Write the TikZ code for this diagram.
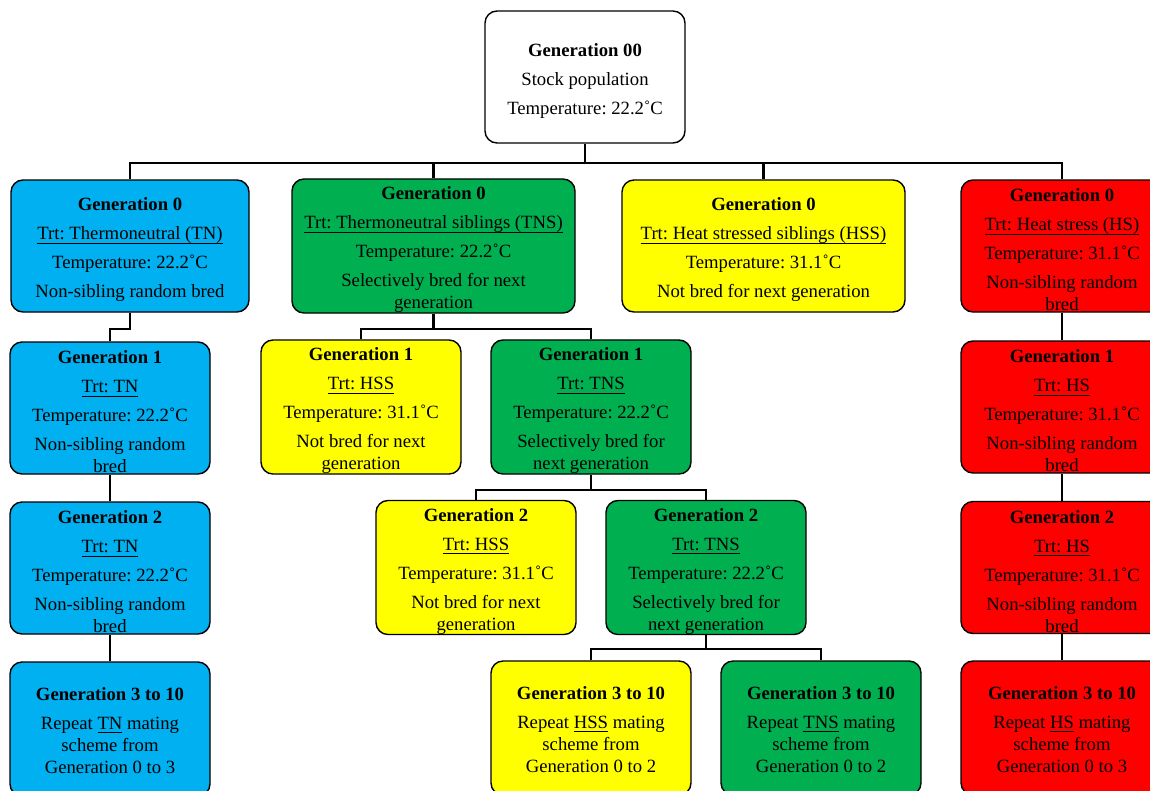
\documentclass[tikz,border=0pt]{standalone}
\usepackage{fontspec}
\setmainfont{Liberation Serif}
\frenchspacing
\definecolor{cblue}{RGB}{0,176,240}
\definecolor{cgreen}{RGB}{0,176,80}
\definecolor{cyellow}{RGB}{255,255,0}
\definecolor{cred}{RGB}{255,0,0}
\newcommand\ulx[1]{\setbox0\hbox{#1}\rlap{\rule[-3.9pt]{\wd0}{1.1pt}}\box0}
\newcommand\gen[2][21pt]{\rule{0pt}{#1}\textbf{#2}}
\tikzset{
  box/.style={draw, line width=1.4pt, rounded corners=12pt, align=center,
    minimum width=200pt, minimum height=132pt, inner sep=0pt,
    font=\fontsize{18.7}{22}\selectfont},
  conn/.style={line width=2.4pt},
}
\begin{document}
\begin{tikzpicture}[x=1pt,y=-1pt]
\useasboundingbox (0,0) rectangle (1150,790);
\clip (0,0) rectangle (1150,790);
% top
\node[box, fill=white] (g00) at (585,77) {\gen{Generation 00}\\[7pt]Stock population\\[7pt]Temperature: 22.2˚C};
% generation 0
\node[box, fill=cblue, minimum width=238pt] (tn0) at (130,246) {\gen{Generation 0}\\[7pt]\ulx{Trt: Thermoneutral (TN)}\\[7pt]Temperature: 22.2˚C\\[7pt]Non-sibling random bred};
\node[box, fill=cgreen, minimum width=283pt] (tns0) at (433.5,246) {\gen{Generation 0}\\[7pt]\ulx{Trt: Thermoneutral siblings (TNS)}\\[7pt]Temperature: 22.2˚C\\[7pt]Selectively bred for next\\generation};
\node[box, fill=cyellow, minimum width=283pt] (hss0) at (763.5,246) {\gen{Generation 0}\\[7pt]\ulx{Trt: Heat stressed siblings (HSS)}\\[7pt]Temperature: 31.1˚C\\[7pt]Not bred for next generation};
\node[box, fill=cred, minimum width=202pt] (hs0) at (1062,246) {\gen{Generation 0}\\[7pt]\ulx{Trt: Heat stress (HS)}\\[7pt]Temperature: 31.1˚C\\[7pt]Non-sibling random\\bred};
% TN column
\node[box, fill=cblue] (tn1) at (110,408) {\gen{Generation 1}\\[7pt]\ulx{Trt: TN}\\[7pt]Temperature: 22.2˚C\\[7pt]Non-sibling random\\bred};
\node[box, fill=cblue] (tn2) at (110,568) {\gen{Generation 2}\\[7pt]\ulx{Trt: TN}\\[7pt]Temperature: 22.2˚C\\[7pt]Non-sibling random\\bred};
\node[box, fill=cblue, minimum height=134pt] (tn3) at (110,729) {\gen[16pt]{Generation 3 to 10}\\[7pt]Repeat \ulx{TN}\ mating\\scheme from\\Generation 0 to 3};
% TNS branch
\node[box, fill=cyellow] (hss1) at (361,407) {\gen{Generation 1}\\[7pt]\ulx{Trt: HSS}\\[7pt]Temperature: 31.1˚C\\[7pt]Not bred for next\\generation};
\node[box, fill=cgreen] (tns1) at (591,407) {\gen{Generation 1}\\[7pt]\ulx{Trt: TNS}\\[7pt]Temperature: 22.2˚C\\[7pt]Selectively bred for\\next generation};
\node[box, fill=cyellow] (hss2) at (476,567.5) {\gen{Generation 2}\\[7pt]\ulx{Trt: HSS}\\[7pt]Temperature: 31.1˚C\\[7pt]Not bred for next\\generation};
\node[box, fill=cgreen] (tns2) at (706,567.5) {\gen{Generation 2}\\[7pt]\ulx{Trt: TNS}\\[7pt]Temperature: 22.2˚C\\[7pt]Selectively bred for\\next generation};
\node[box, fill=cyellow, minimum height=134pt] (hss3) at (591,728) {\gen[16pt]{Generation 3 to 10}\\[7pt]Repeat \ulx{HSS}\ mating\\scheme from\\Generation 0 to 2};
\node[box, fill=cgreen, minimum height=134pt] (tns3) at (821,728) {\gen[16pt]{Generation 3 to 10}\\[7pt]Repeat \ulx{TNS}\ mating\\scheme from\\Generation 0 to 2};
% HS column
\node[box, fill=cred, minimum width=202pt] (hs1) at (1062,407) {\gen{Generation 1}\\[7pt]\ulx{Trt: HS}\\[7pt]Temperature: 31.1˚C\\[7pt]Non-sibling random\\bred};
\node[box, fill=cred, minimum width=202pt] (hs2) at (1062,567.5) {\gen{Generation 2}\\[7pt]\ulx{Trt: HS}\\[7pt]Temperature: 31.1˚C\\[7pt]Non-sibling random\\bred};
\node[box, fill=cred, minimum width=202pt, minimum height=134pt] (hs3) at (1062,728) {\gen[16pt]{Generation 3 to 10}\\[7pt]Repeat \ulx{HS}\ mating\\scheme from\\Generation 0 to 3};
% connectors
\draw[conn] (g00.south) -- ++(0,19) coordinate (bar0);
\draw[conn] (tn0.north) |- (bar0) -| (hs0.north);
\draw[conn] (tns0.north) -- (tns0.north |- bar0);
\draw[conn] (hss0.north) -- (hss0.north |- bar0);
\draw[conn] (tn0.south) -- ++(0,16) -| (tn1.north);
\draw[conn] (tn1.south) -- (tn2.north);
\draw[conn] (tn2.south) -- (tn3.north);
\draw[conn] (tns0.south) -- ++(0,15) coordinate (bar1);
\draw[conn] (hss1.north) |- (bar1) -| (tns1.north);
\draw[conn] (tns1.south) -- ++(0,15) coordinate (bar2);
\draw[conn] (hss2.north) |- (bar2) -| (tns2.north);
\draw[conn] (tns2.south) -- ++(0,14) coordinate (bar3);
\draw[conn] (hss3.north) |- (bar3) -| (tns3.north);
\draw[conn] (hs0.south) -- (hs1.north);
\draw[conn] (hs1.south) -- (hs2.north);
\draw[conn] (hs2.south) -- (hs3.north);
\end{tikzpicture}
\end{document}
